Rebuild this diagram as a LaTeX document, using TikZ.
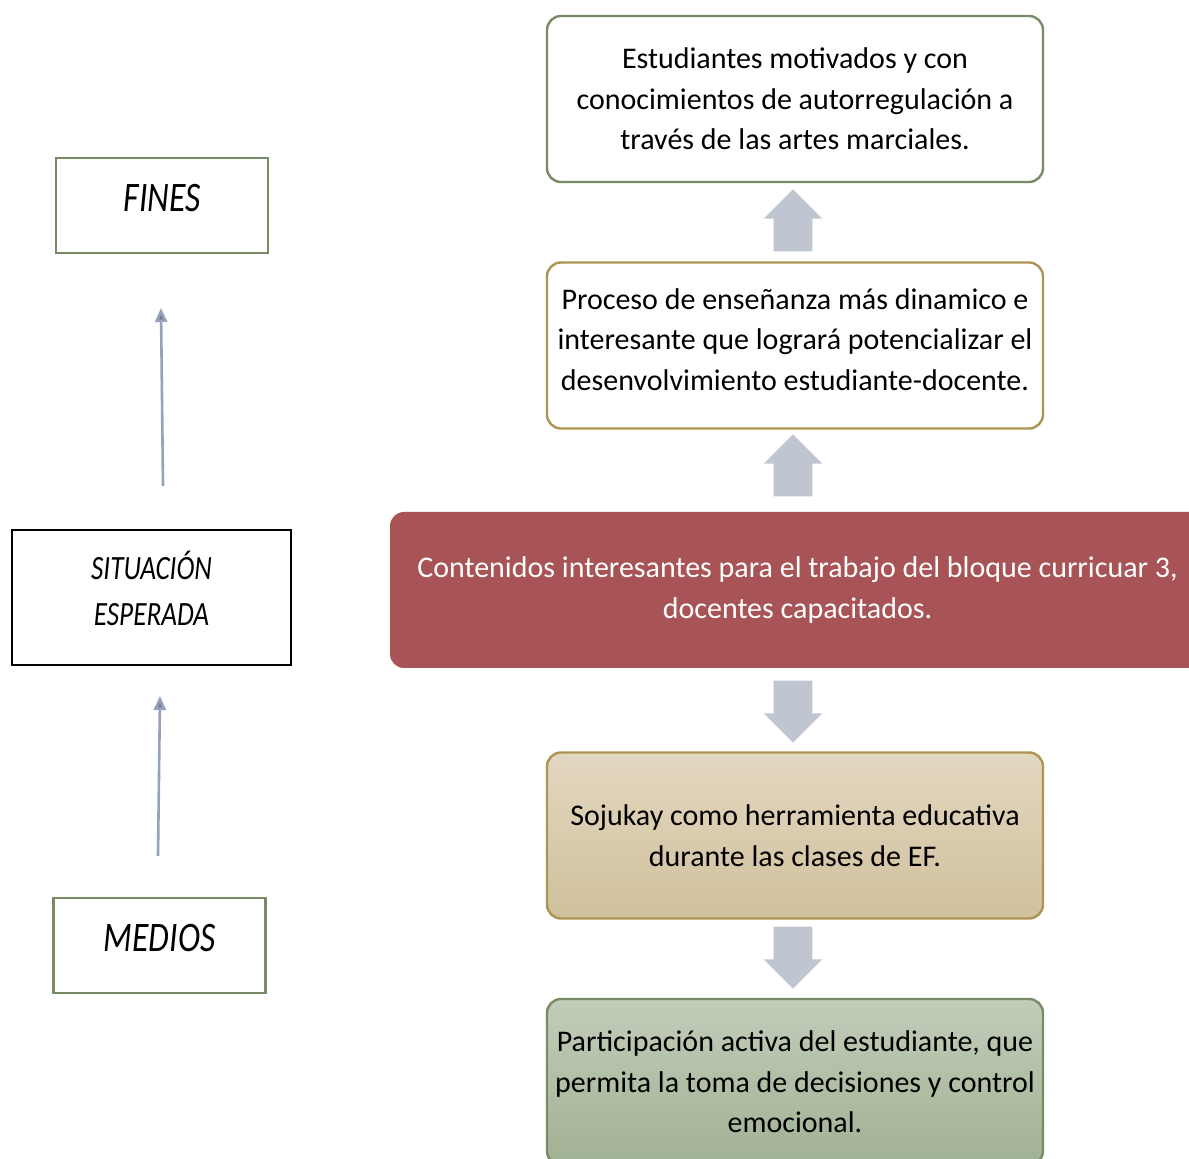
\documentclass[tikz,border=0pt]{standalone}
\usepackage{fontspec}
\setmainfont{Carlito}
\newfontfamily\boxfont{Carlito}
\newfontfamily\sidefont[FakeStretch=0.8]{Carlito}
\usetikzlibrary{calc,shapes.arrows,arrows.meta}

\definecolor{sagegreen}{RGB}{120,138,102}
\definecolor{goldline}{RGB}{172,148,84}
\definecolor{redfill}{RGB}{168,84,87}
\definecolor{tantop}{RGB}{226,215,192}
\definecolor{tanbot}{RGB}{208,192,156}
\definecolor{greentop}{RGB}{194,205,186}
\definecolor{greenbot}{RGB}{161,177,147}
\definecolor{arrowgray}{RGB}{192,197,210}
\definecolor{linegray}{RGB}{150,162,185}
\definecolor{tipgray}{RGB}{110,124,152}

\begin{document}
\begin{tikzpicture}[x=0.5pt,y=-0.5pt,
  every node/.style={inner sep=0pt},
  goal/.style={draw, rounded corners=7pt, line width=1.2pt, minimum width=248pt, minimum height=83pt, align=center, font=\boxfont\fontsize{15}{20.3}\selectfont},
  side/.style={draw, line width=1.1pt, minimum width=106pt, minimum height=47.5pt, align=center, font=\sidefont\itshape\fontsize{21}{23}\selectfont},
  bigarrow/.style={single arrow, fill=arrowgray, minimum height=31pt, single arrow head extend=5pt, inner sep=0pt},
  thinarrow/.style={draw=linegray, line width=1.3pt, -{Triangle[length=7pt,width=6pt,fill=tipgray]}}]
\useasboundingbox[fill=white] (0,0) rectangle (1189,1159);

% left column
\node[side, draw=sagegreen, text depth=8pt] (fines) at (162,205.5) {FINES};
\node[side, draw=black, minimum width=139.5pt, minimum height=67.5pt, text depth=9pt, font=\sidefont\itshape\fontsize{17}{23}\selectfont] (sit) at (151.5,597.5) {SITUACIÓN\\ESPERADA};
\node[side, draw=sagegreen, text depth=8pt] (medios) at (159.5,945.5) {MEDIOS};

\coordinate (s1) at (163,486);
\coordinate (e1) at (161,308);
\coordinate (s2) at (158,856);
\coordinate (e2) at (160,696);
\draw[thinarrow] (s1) -- (e1);
\draw[thinarrow] (s2) -- (e2);

% right column
\node[goal, draw=sagegreen, fill=white] (b1) at (795,99) {Estudiantes motivados y con\\conocimientos de autorregulación a\\través de las artes marciales.};
\node[goal, draw=goldline, fill=white, text depth=6pt] (b2) at (795,345.5) {Proceso de enseñanza más dinamico e\\interesante que logrará potencializar el\\desenvolvimiento estudiante-docente.};
\node[goal, draw=none, fill=redfill, text=white, minimum width=407.5pt, minimum height=78pt] (b3) at (797.5,590) {Contenidos interesantes para el trabajo del bloque curricuar 3,\\docentes capacitados.};
\node[goal, draw=goldline, top color=tantop, bottom color=tanbot] (b4) at (795,835.5) {Sojukay como herramienta educativa\\durante las clases de EF.};
\node[goal, draw=sagegreen, top color=greentop, bottom color=greenbot] (b5) at (795,1082) {Participación activa del estudiante, que\\permita la toma de decisiones y control\\emocional.};

\node[bigarrow, rotate=90] (u1) at (793,230) {\rule{0pt}{19pt}};
\node[bigarrow, rotate=90] (u2) at (793,475) {\rule{0pt}{19pt}};
\node[bigarrow, rotate=-90] (d3) at (793,702) {\rule{0pt}{19pt}};
\node[bigarrow, rotate=-90] (d4) at (793,948) {\rule{0pt}{19pt}};
\end{tikzpicture}
\end{document}
